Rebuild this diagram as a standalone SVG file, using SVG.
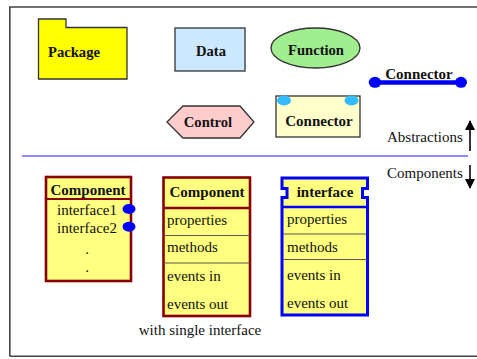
<svg xmlns="http://www.w3.org/2000/svg" width="477" height="359" viewBox="0 0 477 359">
<defs>
<style>
text{font-family:Liberation Serif,DejaVu Serif,Times New Roman,serif}
.b{font-family:Liberation Serif,DejaVu Serif,serif;font-weight:bold;font-size:14.6px;text-anchor:middle;fill:#111}
.t{font-family:Liberation Serif,DejaVu Serif,serif;font-size:15px;fill:#111}
.shape{stroke:#333;stroke-width:1.3}
.comp{fill:#ffff80;stroke:#880000;stroke-width:2.6}
.sep{stroke:#555;stroke-width:1.2}
.dot{fill:#0000ff}
.cdot{fill:#33bbff}
</style>
<marker id="ah" viewBox="0 0 10 10" refX="9" refY="5" markerWidth="10" markerHeight="10" markerUnits="userSpaceOnUse" orient="auto">
<path d="M0,0 L10,5 L0,10 z" fill="#000"/>
</marker>
</defs>
<rect width="477" height="359" fill="#fff"/>
<g id="frame" fill="none" stroke="#444" stroke-width="1.6">
<path d="M9.8,356.2 V7 H477"/>
<path d="M9.8,356.2 H477"/>
</g>
<g id="package">
<path class="shape" d="M38.5,19 H66 V27.5 H127 V79 H38.5 Z" fill="#ffff00"/>
<text class="b" x="74" y="57" font-family="Liberation Serif">Package</text>
</g>
<g id="data">
<rect class="shape" x="175" y="28" width="70" height="43" fill="#cce8ff"/>
<text class="b" x="211" y="56">Data</text>
</g>
<g id="function">
<ellipse class="shape" cx="315.5" cy="48" rx="44.5" ry="20" fill="#a0ee90"/>
<text class="b" x="316" y="54.5">Function</text>
</g>
<g id="control">
<path class="shape" d="M167,122 L183,106 H240 L254,122 L240,138 H183 Z" fill="#ffcccc"/>
<text class="b" x="208" y="127">Control</text>
</g>
<g id="connector-box">
<rect class="shape" x="276" y="96" width="84" height="41" fill="#ffffcc"/>
<ellipse class="cdot" cx="284" cy="100.5" rx="7" ry="5"/>
<ellipse class="cdot" cx="351.5" cy="100.5" rx="7" ry="5"/>
<text class="b" x="319" y="125.5" style="font-size:15px">Connector</text>
</g>
<g id="connector-line">
<line x1="375" y1="82.5" x2="461" y2="82.5" stroke="#0000ee" stroke-width="4.5"/>
<ellipse class="dot" cx="375" cy="82.3" rx="6.3" ry="5.5"/>
<ellipse class="dot" cx="461" cy="82.3" rx="6" ry="5.5"/>
<text class="b" x="419" y="79" style="font-size:15px">Connector</text>
</g>
<g id="divider">
<line x1="22" y1="156" x2="468" y2="156" stroke="#6666ff" stroke-width="1.5"/>
</g>
<g id="connectors" stroke="#000" stroke-width="1.6">
<line x1="470" y1="151" x2="470" y2="121" marker-end="url(#ah)"/>
<line x1="470" y1="165" x2="470" y2="188" marker-end="url(#ah)"/>
</g>
<g id="labels">
<text class="t" x="387" y="142">Abstractions</text>
<text class="t" x="387" y="178">Components</text>
<text class="t" x="200" y="335" text-anchor="middle">with single interface</text>
</g>
<g id="component-simple">
<rect class="comp" x="46" y="177" width="85" height="104"/>
<line x1="46" y1="199" x2="131" y2="199" stroke="#880000" stroke-width="2"/>
<text class="b" x="88" y="195" style="font-size:15px">Component</text>
<text class="t" x="57" y="215">interface1</text>
<text class="t" x="57" y="233">interface2</text>
<text class="t" x="87" y="254" text-anchor="middle">.</text>
<text class="t" x="87" y="272" text-anchor="middle">.</text>
<ellipse class="dot" cx="129" cy="209" rx="6.5" ry="5"/>
<ellipse class="dot" cx="129" cy="226.7" rx="6.5" ry="5"/>
</g>
<g id="component-full">
<rect class="comp" x="163.5" y="177.5" width="86.5" height="138.5"/>
<line x1="163.5" y1="208" x2="250" y2="208" stroke="#880000" stroke-width="2.6"/>
<line class="sep" x1="163.5" y1="235.5" x2="250" y2="235.5"/>
<line class="sep" x1="163.5" y1="263" x2="250" y2="263"/>
<text class="b" x="207" y="197" style="font-size:15px">Component</text>
<text class="t" x="167" y="225">properties</text>
<text class="t" x="167" y="252">methods</text>
<text class="t" x="167" y="281">events in</text>
<text class="t" x="167" y="309">events out</text>
</g>
<g id="interface">
<path d="M282,178 H367.5 V188.5 H362.5 V197.5 H367.5 V315 H282 V197.5 H287 V188.5 H282 Z" fill="#ffff80" stroke="#0000ff" stroke-width="3"/>
<line x1="283" y1="207" x2="367" y2="207" stroke="#0000ff" stroke-width="2.6"/>
<line class="sep" x1="283" y1="234" x2="367" y2="234"/>
<line class="sep" x1="283" y1="259.5" x2="367" y2="259.5"/>
<text class="b" x="325" y="197" style="font-size:15px">interface</text>
<text class="t" x="287" y="224">properties</text>
<text class="t" x="287" y="252">methods</text>
<text class="t" x="287" y="280">events in</text>
<text class="t" x="287" y="308">events out</text>
</g>
</svg>
